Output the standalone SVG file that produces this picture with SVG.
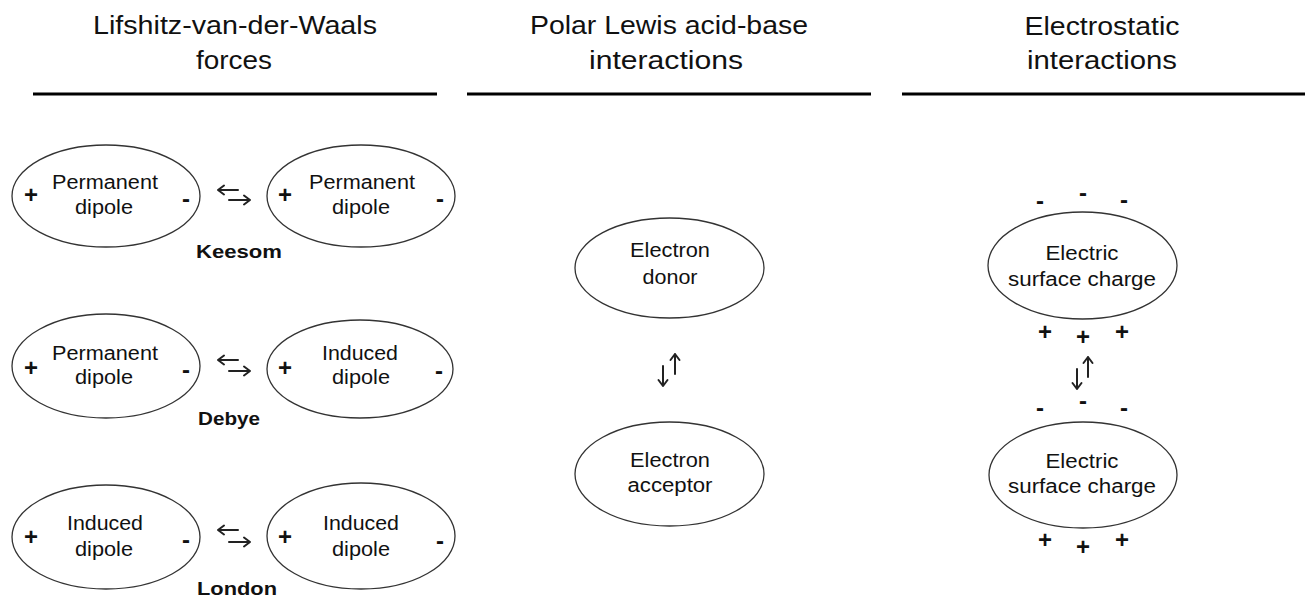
<svg xmlns="http://www.w3.org/2000/svg" width="1309" height="598" viewBox="0 0 1309 598">
<style>
  .hdr { font-family: "Liberation Sans", Arial, sans-serif; font-size: 25px; fill: #111; text-anchor: middle; }
  .t { font-family: "Liberation Sans", Arial, sans-serif; font-size: 20px; fill: #111; text-anchor: middle; }
  .lbl { font-family: "Liberation Sans", Arial, sans-serif; font-size: 18.5px; font-weight: bold; fill: #111; text-anchor: middle; }
  .ch { font-family: "Liberation Sans", Arial, sans-serif; font-size: 24px; font-weight: bold; fill: #111; text-anchor: middle; }
  .ell { fill: #fff; stroke: #333; stroke-width: 1.3; }
  .rule { stroke: #000; stroke-width: 3; }
  .arr { fill: none; stroke: #222; stroke-width: 2; stroke-linecap: round; stroke-linejoin: round; }
</style>
<rect width="1309" height="598" fill="#fff"/>

<g id="headers">
  <text class="hdr" x="235" y="34" textLength="284" lengthAdjust="spacingAndGlyphs">Lifshitz-van-der-Waals</text>
  <text class="hdr" x="234" y="69" textLength="76" lengthAdjust="spacingAndGlyphs">forces</text>
  <line class="rule" x1="33" y1="94" x2="437" y2="94"/>
  <text class="hdr" x="669" y="34" textLength="278" lengthAdjust="spacingAndGlyphs">Polar Lewis acid-base</text>
  <text class="hdr" x="666" y="69" textLength="154" lengthAdjust="spacingAndGlyphs">interactions</text>
  <line class="rule" x1="467" y1="94" x2="871" y2="94"/>
  <text class="hdr" x="1102" y="35" textLength="155" lengthAdjust="spacingAndGlyphs">Electrostatic</text>
  <text class="hdr" x="1102" y="69" textLength="150" lengthAdjust="spacingAndGlyphs">interactions</text>
  <line class="rule" x1="902" y1="94" x2="1305" y2="94"/>
</g>

<!-- Keesom row -->
<g id="keesom-left">
  <ellipse class="ell" cx="106" cy="196" rx="94" ry="51"/>
  <text class="t" x="105" y="189" textLength="106" lengthAdjust="spacingAndGlyphs">Permanent</text>
  <text class="t" x="104" y="214" textLength="58" lengthAdjust="spacingAndGlyphs">dipole</text>
  <text class="ch" x="31" y="203">+</text>
  <text class="ch" x="186" y="207">-</text>
</g>
<g id="keesom-right">
  <ellipse class="ell" cx="361" cy="196" rx="94" ry="51"/>
  <text class="t" x="362" y="189" textLength="106" lengthAdjust="spacingAndGlyphs">Permanent</text>
  <text class="t" x="361" y="214" textLength="58" lengthAdjust="spacingAndGlyphs">dipole</text>
  <text class="ch" x="285" y="203">+</text>
  <text class="ch" x="440" y="207">-</text>
</g>
<g id="keesom-label">
  <text class="lbl" x="239" y="258" textLength="86" lengthAdjust="spacingAndGlyphs">Keesom</text>
</g>

<!-- Debye row -->
<g id="debye-left">
  <ellipse class="ell" cx="106" cy="366" rx="94" ry="52"/>
  <text class="t" x="105" y="360" textLength="106" lengthAdjust="spacingAndGlyphs">Permanent</text>
  <text class="t" x="104" y="384" textLength="58" lengthAdjust="spacingAndGlyphs">dipole</text>
  <text class="ch" x="31" y="376">+</text>
  <text class="ch" x="186" y="378">-</text>
</g>
<g id="debye-right">
  <ellipse class="ell" cx="360" cy="369" rx="93" ry="49"/>
  <text class="t" x="360" y="360" textLength="76" lengthAdjust="spacingAndGlyphs">Induced</text>
  <text class="t" x="361" y="384" textLength="58" lengthAdjust="spacingAndGlyphs">dipole</text>
  <text class="ch" x="285" y="376">+</text>
  <text class="ch" x="439" y="379">-</text>
</g>
<g id="debye-label">
  <text class="lbl" x="229" y="425" textLength="62" lengthAdjust="spacingAndGlyphs">Debye</text>
</g>

<!-- London row -->
<g id="london-left">
  <ellipse class="ell" cx="106" cy="537" rx="94" ry="52"/>
  <text class="t" x="105" y="530" textLength="76" lengthAdjust="spacingAndGlyphs">Induced</text>
  <text class="t" x="104" y="556" textLength="58" lengthAdjust="spacingAndGlyphs">dipole</text>
  <text class="ch" x="31" y="545">+</text>
  <text class="ch" x="186" y="548">-</text>
</g>
<g id="london-right">
  <ellipse class="ell" cx="361" cy="536" rx="94" ry="53"/>
  <text class="t" x="361" y="530" textLength="76" lengthAdjust="spacingAndGlyphs">Induced</text>
  <text class="t" x="361" y="556" textLength="58" lengthAdjust="spacingAndGlyphs">dipole</text>
  <text class="ch" x="285" y="545">+</text>
  <text class="ch" x="440" y="549">-</text>
</g>
<g id="london-label">
  <text class="lbl" x="237" y="595" textLength="80" lengthAdjust="spacingAndGlyphs">London</text>
</g>

<!-- Lewis acid-base -->
<g id="donor">
  <ellipse class="ell" cx="669.5" cy="268" rx="94.5" ry="50"/>
  <text class="t" x="670" y="257" textLength="80" lengthAdjust="spacingAndGlyphs">Electron</text>
  <text class="t" x="670" y="284" textLength="55" lengthAdjust="spacingAndGlyphs">donor</text>
</g>
<g id="acceptor">
  <ellipse class="ell" cx="669.5" cy="474" rx="94.5" ry="52"/>
  <text class="t" x="670" y="467" textLength="80" lengthAdjust="spacingAndGlyphs">Electron</text>
  <text class="t" x="670" y="492" textLength="85" lengthAdjust="spacingAndGlyphs">acceptor</text>
</g>

<!-- Electrostatic -->
<g id="surface-top">
  <ellipse class="ell" cx="1082.5" cy="265.5" rx="94.5" ry="53.5"/>
  <text class="t" x="1082" y="260" textLength="73" lengthAdjust="spacingAndGlyphs">Electric</text>
  <text class="t" x="1082" y="286" textLength="148" lengthAdjust="spacingAndGlyphs">surface charge</text>
  <text class="ch" x="1040" y="209">-</text>
  <text class="ch" x="1083" y="201">-</text>
  <text class="ch" x="1124" y="208">-</text>
  <text class="ch" x="1045" y="340">+</text>
  <text class="ch" x="1083" y="345">+</text>
  <text class="ch" x="1122" y="340">+</text>
</g>
<g id="surface-bottom">
  <ellipse class="ell" cx="1083" cy="475" rx="94" ry="53"/>
  <text class="t" x="1082" y="468" textLength="73" lengthAdjust="spacingAndGlyphs">Electric</text>
  <text class="t" x="1082" y="493" textLength="148" lengthAdjust="spacingAndGlyphs">surface charge</text>
  <text class="ch" x="1040" y="416">-</text>
  <text class="ch" x="1083" y="409">-</text>
  <text class="ch" x="1124" y="416">-</text>
  <text class="ch" x="1045" y="548">+</text>
  <text class="ch" x="1083" y="555">+</text>
  <text class="ch" x="1122" y="548">+</text>
</g>

<g id="connectors">
  <!-- Keesom -->
  <path class="arr" d="M218,190 H238 M224,185.5 L218,190 L224,194.5"/>
  <path class="arr" d="M229,200 H250 M244,195.5 L250,200 L244,204.5"/>
  <!-- Debye -->
  <path class="arr" d="M218,360 H238 M224,355.5 L218,360 L224,364.5"/>
  <path class="arr" d="M229,371 H250 M244,366.5 L250,371 L244,375.5"/>
  <!-- London -->
  <path class="arr" d="M218,530 H238 M224,525.5 L218,530 L224,534.5"/>
  <path class="arr" d="M229,542 H250 M244,537.5 L250,542 L244,546.5"/>
  <!-- Lewis -->
  <path class="arr" d="M663,366 V386 M658.5,380 L663,386 L667.5,380"/>
  <path class="arr" d="M675,374 V354 M670.5,360 L675,354 L679.5,360"/>
  <!-- Electrostatic -->
  <path class="arr" d="M1077,369 V389 M1072.5,383 L1077,389 L1081.5,383"/>
  <path class="arr" d="M1088,377 V357 M1083.5,363 L1088,357 L1092.5,363"/>
</g>
</svg>
